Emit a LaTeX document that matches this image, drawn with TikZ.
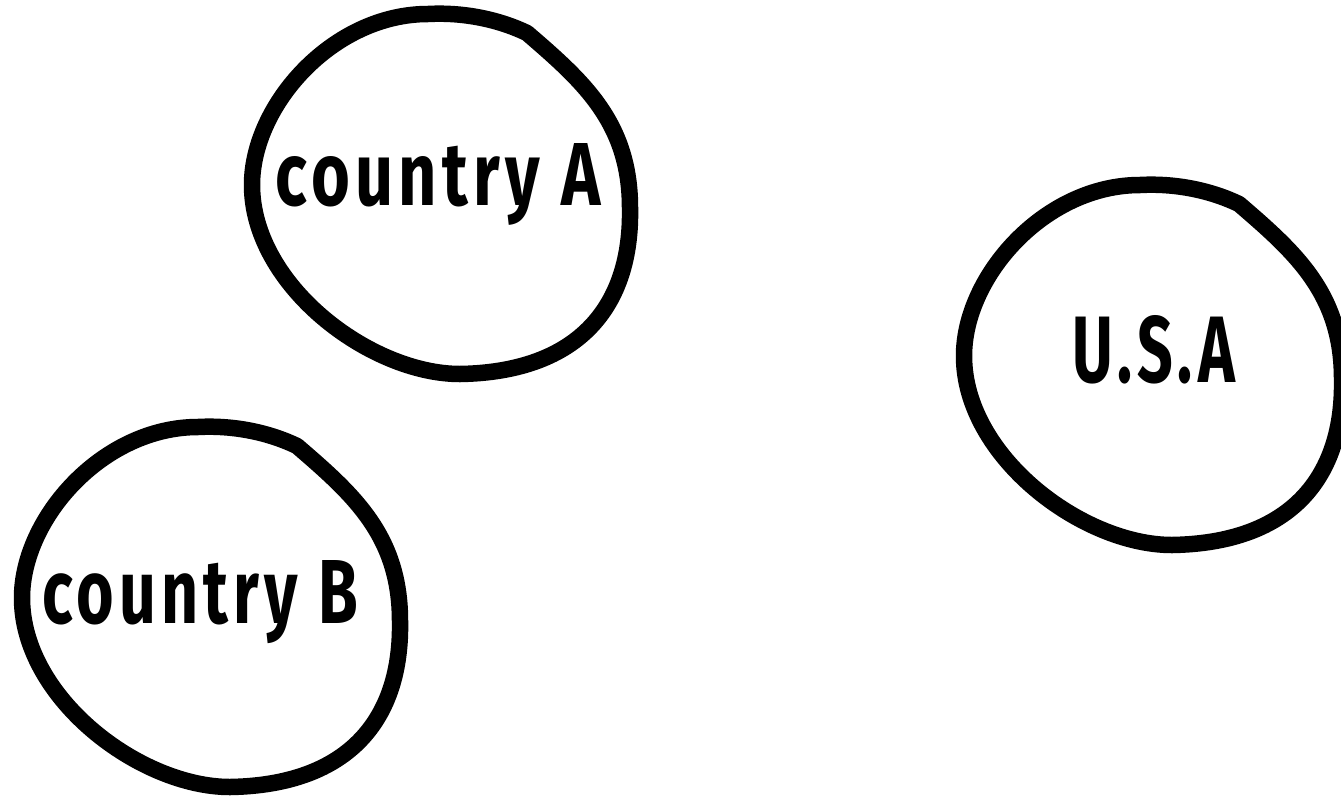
\documentclass[tikz,border=0pt]{standalone}
\usepackage{fontspec}
\setmainfont{Fira Sans}
\newfontfamily\lblfont{Fira Sans}[LetterSpace=8]
\usepackage{graphicx}
\begin{document}
\begin{tikzpicture}[x=1pt, y=-1pt,
        blob/.style={line width=16.5pt, line cap=round, line join=round},
        lbl/.style={anchor=base west, inner sep=0pt, font=\lblfont\bfseries}]
        \useasboundingbox (0,0) rectangle (1341,801);
        \clip (0,0) rectangle (1341,801);
        % one hand-drawn ring, copied three times
        \foreach \dx/\dy in {0/0, -230/413, 712/171}{%
            \draw[blob, shift={(\dx,\dy)}] (527,33) .. controls (584,82) and (630,123) .. (630,208)
                .. controls (632,305) and (580,372) .. (460,374)
                .. controls (370,374) and (252,285) .. (252,185)
                .. controls (252,105) and (333,14) .. (428,14)
                .. controls (465,12) and (500,20) .. (527,33);%
        }
        \node[lbl] (ctryA) at (275,205) {\resizebox{325pt}{62pt}{country A}};
        \node[lbl] (ctryB) at (42,623) {\resizebox{316pt}{63pt}{country B}};
        \node[lbl] (usa) at (1072,382) {\resizebox{163pt}{67pt}{U.S.A}};
    \end{tikzpicture}
\end{document}
